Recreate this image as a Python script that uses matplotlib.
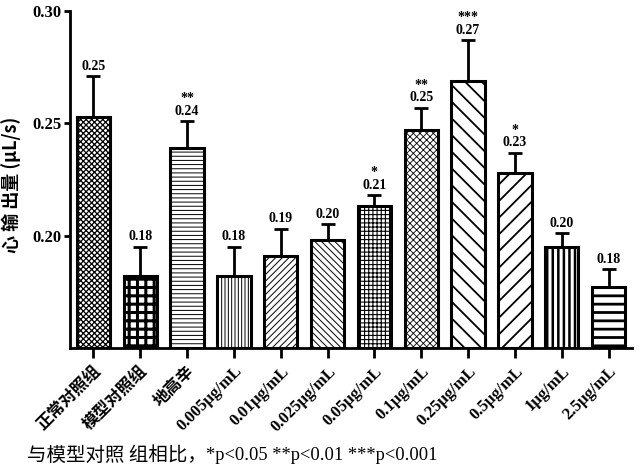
import matplotlib
matplotlib.use("Agg")
import matplotlib.pyplot as plt
import numpy as np

categories = ["正常对照组", "模型对照组", "地高辛", "0.005μg/mL", "0.01μg/mL", "0.025μg/mL",
              "0.05μg/mL", "0.1μg/mL", "0.25μg/mL", "0.5μg/mL", "1μg/mL", "2.5μg/mL"]
means = [0.253, 0.182, 0.239, 0.182, 0.191, 0.198, 0.213, 0.247, 0.269, 0.228, 0.195, 0.177]
errors = [0.018, 0.013, 0.012, 0.013, 0.012, 0.007, 0.005, 0.010, 0.018, 0.009, 0.006, 0.008]
value_labels = ["0.25", "0.18", "0.24", "0.18", "0.19", "0.20", "0.21", "0.25", "0.27", "0.23", "0.20", "0.18"]
stars = ["", "", "**", "", "", "", "*", "**", "***", "*", "", ""]
yticks = [0.20, 0.25, 0.30]
ylabel = "心 输 出量 (μL/s)"
note_cn = "与模型对照 组相比，"
note_p = "*p<0.05 **p<0.01 ***p<0.001"

hatches = ["xxxxxx", "++", "----", "|||||", "/////", "\\\\\\\\\\", "++++", "xxxxx",
           "\\\\", "//", "|||", "--"]
hatch_lw = [0.9, 2.2, 0.7, 0.7, 0.7, 0.7, 0.8, 0.6, 1.3, 1.3, 1.8, 2.0]

SERIF = ["Liberation Serif", "Noto Sans CJK SC"]
CJK = ["Noto Sans CJK SC", "DejaVu Sans"]

fig = plt.figure(figsize=(6.4, 4.72), dpi=100)
ax = fig.add_axes([70 / 640, 1 - 348 / 472, (632 - 70) / 640, (348 - 11) / 472])

x = np.arange(len(categories))
for i in range(len(categories)):
    plt.rcParams["hatch.linewidth"] = hatch_lw[i]
    b = ax.bar(x[i], means[i] - 0.15, bottom=0.15, width=0.71, facecolor="white",
               edgecolor="black", linewidth=2.2, hatch=hatches[i], zorder=2)
    for p in b:
        try:
            p.set_hatch_linewidth(hatch_lw[i])
        except Exception:
            pass

ax.errorbar(x, means, yerr=[np.zeros(len(means)), errors], fmt="none", ecolor="black",
            elinewidth=2.0, capsize=4.8, capthick=2.0, zorder=1)

for i in range(len(categories)):
    top = means[i] + errors[i]
    ax.annotate(value_labels[i], (x[i], top), xytext=(0, 2.5), textcoords="offset points",
                ha="center", va="bottom", fontsize=10, fontweight="bold", family=SERIF,
                annotation_clip=False)
    if stars[i]:
        ax.annotate(stars[i], (x[i], top), xytext=(0, 11.5), textcoords="offset points",
                    ha="center", va="bottom", fontsize=10, fontweight="bold", family=SERIF,
                    annotation_clip=False)

ax.set_xlim(-0.5, 11.5)
ax.set_ylim(0.15, 0.30)
ax.set_yticks(yticks)
ax.set_yticklabels(["%.2f" % v for v in yticks], fontsize=12, fontweight="bold", family=SERIF)
ax.set_xticks(x)
ax.set_xticklabels(categories, rotation=45, ha="right", rotation_mode="anchor",
                   fontsize=12, fontweight="bold", family=SERIF)
ax.tick_params(axis="y", length=4, width=2, pad=2)
ax.tick_params(axis="x", length=7, width=2, pad=4)

for s in ["top", "right"]:
    ax.spines[s].set_visible(False)
for s in ["left", "bottom"]:
    ax.spines[s].set_linewidth(2.0)

fig.text(11 / 640, 1 - 185 / 472, ylabel, rotation=90, ha="center", va="center",
         fontsize=13, fontweight="bold", family=CJK)
fig.text(27 / 640, 1 - 455 / 472, note_cn, ha="left", va="center", fontsize=14, family=CJK)
fig.text(206 / 640, 1 - 455 / 472, note_p, ha="left", va="center", fontsize=13.3, family=SERIF)

fig.savefig("out.png", dpi=100)
